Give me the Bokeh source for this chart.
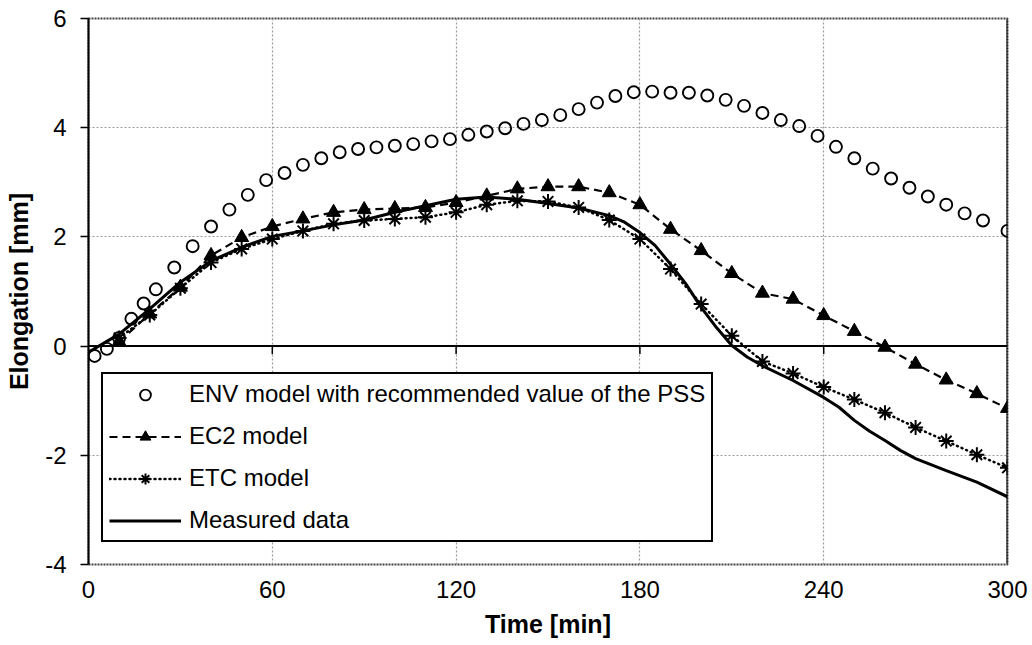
from bokeh.plotting import figure
from bokeh.models import Range1d, FixedTicker, Span
from bokeh.embed import file_html
from bokeh.resources import INLINE

# ---------------- data ----------------
env_t = [2, 6, 10, 14, 18, 22, 28, 34, 40, 46, 52, 58, 64, 70, 76, 82, 88, 94, 100, 106,
         112, 118, 124, 130, 136, 142, 148, 154, 160, 166, 172, 178, 184, 190, 196, 202,
         208, 214, 220, 226, 232, 238, 244, 250, 256, 262, 268, 274, 280, 286, 292, 300]
env_y = [-0.18, -0.05, 0.15, 0.50, 0.78, 1.04, 1.44, 1.83, 2.19, 2.50, 2.77, 3.04, 3.17, 3.32,
         3.44, 3.55, 3.61, 3.64, 3.67, 3.70, 3.75, 3.79, 3.87, 3.93, 3.99, 4.07, 4.14, 4.23,
         4.34, 4.46, 4.58, 4.65, 4.66, 4.64, 4.64, 4.59, 4.51, 4.40, 4.27, 4.14, 4.03, 3.85,
         3.65, 3.44, 3.25, 3.07, 2.90, 2.74, 2.59, 2.43, 2.30, 2.11]

model_t = [10, 20, 30, 40, 50, 60, 70, 80, 90, 100, 110, 120, 130, 140, 150, 160, 170, 180,
           190, 200, 210, 220, 230, 240, 250, 260, 270, 280, 290, 300]
ec2_y = [0.08, 0.59, 1.08, 1.66, 1.99, 2.19, 2.33, 2.45, 2.50, 2.52, 2.54, 2.63, 2.75, 2.88,
         2.92, 2.92, 2.81, 2.59, 2.14, 1.75, 1.33, 0.97, 0.86, 0.56, 0.27, -0.02, -0.33,
         -0.62, -0.87, -1.14]
etc_y = [0.15, 0.57, 1.06, 1.53, 1.78, 1.96, 2.11, 2.24, 2.30, 2.33, 2.36, 2.45, 2.59, 2.66,
         2.65, 2.54, 2.31, 1.96, 1.41, 0.77, 0.19, -0.28, -0.50, -0.75, -0.98, -1.22, -1.49,
         -1.74, -1.99, -2.23]

meas_t = [0, 10, 20, 30, 40, 50, 60, 70, 80, 90, 100, 110, 120, 130, 140, 150, 160, 170, 175,
          180, 185, 190, 195, 200, 205, 210, 215, 220, 230, 240, 245, 250, 255, 260, 265, 270,
          275, 280, 290, 300]
meas_y = [-0.11, 0.22, 0.68, 1.17, 1.56, 1.81, 2.01, 2.11, 2.22, 2.31, 2.45, 2.57, 2.69, 2.73,
          2.69, 2.61, 2.53, 2.39, 2.27, 2.08, 1.84, 1.50, 1.14, 0.71, 0.34, 0.01, -0.20, -0.36,
          -0.63, -0.94, -1.12, -1.36, -1.56, -1.73, -1.91, -2.06, -2.17, -2.28, -2.49, -2.76]

x_ticks = [0, 60, 120, 180, 240, 300]
y_ticks = [-4, -2, 0, 2, 4, 6]

labels = ["ENV model with recommended value of the PSS", "EC2 model", "ETC model", "Measured data"]

# ---------------- figure ----------------
FONT = "Liberation Sans"
W, H = 1032, 645
ML, MR, MT, MB = 88, 25, 18, 81

p = figure(width=W, height=H, output_backend="svg", toolbar_location=None,
           x_range=Range1d(x_ticks[0], x_ticks[-1]), y_range=Range1d(y_ticks[0], y_ticks[-1]),
           min_border_left=ML, min_border_right=MR, min_border_top=MT, min_border_bottom=MB)
p.background_fill_color = "white"
p.border_fill_color = "white"
p.outline_line_color = "#444444"
p.outline_line_width = 2
p.outline_line_dash = "2 1"

# axes
xa = p.xaxis[0]
xa.ticker = FixedTicker(ticks=x_ticks)
xa.major_label_overrides = {t: str(t) for t in x_ticks}
xa.axis_line_color = None
xa.major_tick_out = 0
xa.major_tick_in = 0
xa.minor_tick_line_color = None
xa.major_label_standoff = 16
xa.major_label_text_font = FONT
xa.major_label_text_font_size = "24px"
xa.major_label_text_color = "black"
xa.axis_label = "Time [min]"
xa.axis_label_text_font = FONT
xa.axis_label_text_font_size = "25px"
xa.axis_label_text_font_style = "bold"
xa.axis_label_text_color = "black"
xa.axis_label_standoff = 9

ya = p.yaxis[0]
ya.ticker = FixedTicker(ticks=y_ticks)
ya.major_label_overrides = {t: str(t) for t in y_ticks}
ya.axis_line_color = "black"
ya.axis_line_width = 2
ya.major_tick_out = 8
ya.major_tick_in = 0
ya.major_tick_line_width = 1.5
ya.minor_tick_line_color = None
ya.major_label_standoff = 14
ya.major_label_text_font = FONT
ya.major_label_text_font_size = "24px"
ya.major_label_text_color = "black"
ya.axis_label = "Elongation [mm]"
ya.axis_label_text_font = FONT
ya.axis_label_text_font_size = "25px"
ya.axis_label_text_font_style = "bold"
ya.axis_label_text_color = "black"
ya.axis_label_standoff = 9

# grid
p.xgrid.ticker = FixedTicker(ticks=x_ticks[1:-1])
p.ygrid.ticker = FixedTicker(ticks=[t for t in y_ticks if t != 0])
for g in (p.xgrid[0], p.ygrid[0]):
    g.grid_line_color = "#9a9a9a"
    g.grid_line_width = 1.2
    g.grid_line_dash = "2 2"

# zero line (x axis crossing) and right border
p.add_layout(Span(location=0, dimension="width", line_color="black", line_width=2))
p.add_layout(Span(location=x_ticks[-1], dimension="height", line_color="black", line_width=2))

# tick marks on zero line (8 px below)
frame_h = H - MT - MB
tick_len = 8 * (y_ticks[-1] - y_ticks[0]) / frame_h
inner = x_ticks[1:-1]
p.segment(x0=inner, y0=[0] * len(inner), x1=inner, y1=[-tick_len] * len(inner),
          line_color="black", line_width=1.5)

# ---------------- series ----------------
p.scatter(env_t, env_y, marker="circle", size=12, line_color="black", line_width=1.9,
          fill_color=None, legend_label=labels[0])

p.line(model_t, ec2_y, line_color="black", line_width=2.2, line_dash="8 5", legend_label=labels[1])
p.scatter(model_t, ec2_y, marker="triangle", size=14, line_color="black", fill_color="black",
          legend_label=labels[1])

p.line(model_t, etc_y, line_color="black", line_width=2.5, line_dash="1 4", line_cap="round",
       legend_label=labels[2])
p.scatter(model_t, etc_y, marker="asterisk", size=15, line_color="black", line_width=2,
          legend_label=labels[2])

p.line(meas_t, meas_y, line_color="black", line_width=3, legend_label=labels[3])

# ---------------- legend ----------------
lg = p.legend[0]
lg.location = (13, 22)
lg.margin = 0
lg.padding = 6
lg.spacing = 14
lg.glyph_width = 72
lg.glyph_height = 27
lg.label_height = 27
lg.label_standoff = 8
lg.label_text_font = FONT
lg.label_text_font_size = "24px"
lg.label_text_color = "black"
lg.border_line_color = "black"
lg.border_line_alpha = 1.0
lg.border_line_width = 2
lg.background_fill_color = "white"
lg.background_fill_alpha = 1.0

open("out.html", "w").write(file_html(p, INLINE))
